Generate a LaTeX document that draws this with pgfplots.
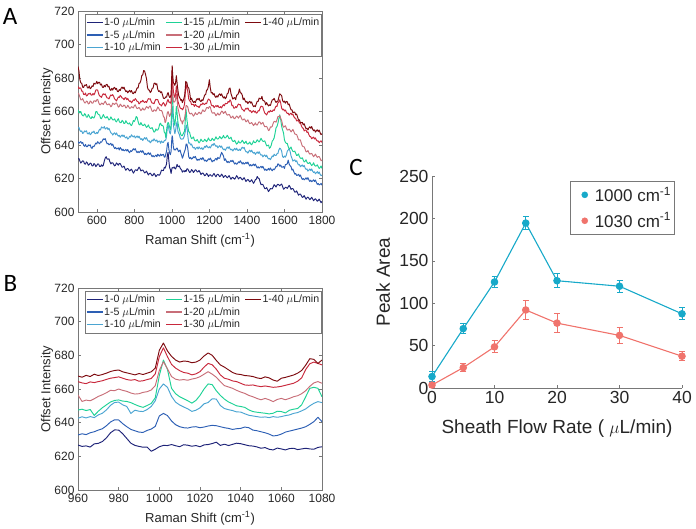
\documentclass[border=0pt]{standalone}
\usepackage{pgfplots}
\pgfplotsset{compat=1.18}
\usepackage{pgfplotstable}
\usepackage{fontspec}
\setmainfont{Liberation Sans}
\newfontfamily\panelfont{Carlito}

\definecolor{c0}{RGB}{30,35,120}
\definecolor{c5}{RGB}{45,95,180}
\definecolor{c10}{RGB}{75,165,210}
\definecolor{c15}{RGB}{30,210,150}
\definecolor{c20}{RGB}{200,110,120}
\definecolor{c30}{RGB}{200,40,60}
\definecolor{c40}{RGB}{125,10,15}
\definecolor{cyanC}{RGB}{23,169,201}
\definecolor{salmonC}{RGB}{240,115,108}
\definecolor{axgray}{RGB}{120,120,120}
\definecolor{txt}{RGB}{38,38,38}

\pgfplotstableread{
x a0 a5 a10 a15 a20 a30 a40
500 631.6 642.0 650.0 661.0 671.0 675.0 686.9
505 631.9 641.1 650.5 659.3 670.4 673.6 684.2
510 630.4 641.6 648.7 659.2 668.6 674.2 679.0
515 629.2 642.1 648.0 660.0 666.9 673.9 677.1
520 629.9 641.0 648.4 658.3 667.0 672.1 676.8
525 630.6 641.5 646.9 657.5 667.7 672.1 674.5
530 630.2 639.8 647.3 657.4 666.3 670.2 674.3
535 628.7 639.2 648.4 658.7 665.2 670.1 675.8
540 628.6 640.4 647.9 658.1 665.2 671.0 675.6
545 629.9 639.0 648.5 656.6 666.2 669.3 676.1
550 629.3 639.0 646.8 656.7 665.9 669.6 674.2
555 627.9 640.1 646.6 658.2 664.5 670.7 674.0
560 628.4 639.6 647.5 657.2 664.8 670.4 675.3
565 629.2 640.1 646.1 656.1 666.3 671.0 673.6
570 628.9 638.4 646.6 655.8 665.8 669.8 674.1
575 627.5 638.0 647.8 657.0 664.9 669.8 675.3
580 627.5 639.3 647.4 656.3 665.1 670.7 674.9
585 628.9 639.0 648.3 656.1 666.4 669.9 676.9
590 628.4 640.1 646.9 657.4 666.4 671.1 676.5
595 627.1 641.2 646.7 659.9 665.8 672.8 676.5
600 627.8 640.6 647.6 660.0 667.0 673.0 678.0
605 628.7 642.0 646.9 658.7 667.2 672.7 676.6
610 628.6 641.2 648.2 658.1 665.4 670.6 677.4
615 627.2 640.7 649.4 658.0 664.1 669.3 677.4
620 627.2 641.9 649.0 656.0 664.0 669.0 675.8
625 628.2 641.6 650.8 655.7 665.0 668.4 676.4
630 627.3 642.6 650.3 656.9 664.8 669.8 674.5
635 627.9 643.7 650.1 658.2 664.2 670.6 674.3
640 630.4 643.2 651.0 657.0 665.3 670.0 675.6
645 632.2 643.8 649.5 656.2 666.2 670.5 674.7
650 633.0 642.1 650.0 656.2 665.0 669.2 676.0
655 631.6 640.7 650.4 657.0 664.0 668.1 676.2
660 631.6 641.0 649.2 656.0 664.1 668.0 674.7
665 631.7 640.1 650.0 654.9 664.6 667.5 675.1
670 630.0 640.5 648.6 655.4 663.9 668.9 673.0
675 628.7 641.0 647.2 656.8 662.8 669.9 672.6
680 629.4 639.8 647.0 655.8 663.4 669.4 673.8
685 629.4 640.5 645.9 655.0 665.0 670.1 672.8
690 628.4 639.0 646.8 655.0 664.5 669.0 674.0
695 627.5 637.9 647.3 655.6 664.2 667.5 674.4
700 628.0 638.6 646.1 654.3 665.0 667.0 673.2
705 629.3 637.6 647.2 653.8 665.1 666.3 673.8
710 628.7 637.9 646.0 654.9 664.0 667.6 672.0
715 627.9 638.3 645.3 655.7 662.6 668.7 671.8
720 629.0 637.0 645.8 654.0 663.0 668.3 673.1
725 628.9 638.5 644.6 653.3 664.4 669.6 672.5
730 627.8 637.7 645.4 653.4 663.8 669.0 674.0
735 626.7 636.7 646.0 654.7 662.9 668.0 674.6
740 626.9 637.5 645.0 654.1 663.1 667.9 673.6
745 627.4 636.5 645.9 652.8 663.9 667.0 674.5
750 626.0 636.8 644.6 653.0 663.4 668.1 673.0
755 624.9 637.4 644.2 654.5 662.1 668.3 671.9
760 625.7 636.4 644.9 653.5 662.5 667.0 672.4
765 626.0 637.3 643.5 652.7 663.7 667.8 671.1
770 625.3 636.0 644.0 652.6 662.9 666.7 672.0
775 624.5 635.4 645.2 653.2 661.9 666.0 672.6
780 625.0 636.6 644.7 652.0 662.0 666.3 671.6
785 625.6 636.1 646.1 651.6 662.9 665.2 672.5
790 624.4 636.9 645.2 652.8 662.6 666.0 671.0
795 623.2 637.8 644.8 654.6 662.1 667.0 670.6
800 624.0 637.0 645.5 654.0 663.4 666.6 671.8
805 625.1 637.8 644.2 655.1 664.0 667.7 671.1
810 625.1 636.4 644.8 657.0 662.6 667.0 672.6
815 624.7 635.4 645.4 656.5 661.7 666.0 674.1
820 625.7 636.2 644.3 654.1 662.0 665.9 674.0
825 626.8 635.4 645.3 652.3 662.4 664.5 676.7
830 626.0 636.0 644.0 652.0 661.6 665.0 677.0
835 624.5 636.6 643.3 653.4 660.5 666.1 678.5
840 624.9 635.6 643.8 652.3 661.2 665.7 681.5
845 625.1 636.6 642.7 651.6 662.1 666.7 681.9
850 624.3 635.4 643.6 651.7 661.0 665.8 684.5
855 623.3 634.3 644.4 652.5 660.9 665.4 684.1
860 623.7 635.0 643.5 651.5 662.0 666.0 682.0
865 624.4 634.2 644.4 650.5 662.9 665.3 679.5
870 623.2 634.8 643.0 651.0 662.5 666.6 674.5
875 622.1 635.4 642.2 652.0 661.9 667.7 672.9
880 622.9 634.3 642.5 650.6 663.0 667.4 672.8
885 623.2 635.3 641.3 649.9 663.3 667.6 671.3
890 622.5 634.0 642.0 650.0 661.6 666.0 672.0
895 621.6 633.0 643.0 650.4 660.2 665.0 673.8
900 622.0 633.7 642.4 649.0 660.0 665.0 674.0
905 623.1 632.9 643.7 647.7 661.0 664.6 676.7
910 622.3 633.4 642.8 648.0 660.8 666.2 677.0
915 621.1 634.0 642.3 649.6 660.2 667.3 676.0
920 621.8 633.0 643.0 648.8 661.3 667.0 676.6
925 622.4 634.5 641.6 649.0 662.7 667.1 673.2
930 622.0 633.8 642.2 650.0 662.0 665.4 672.0
935 622.0 633.3 642.4 652.4 660.7 664.2 672.4
940 623.4 634.6 641.0 653.0 660.6 664.0 671.2
945 625.0 633.7 642.4 651.6 660.6 663.3 671.8
950 624.8 634.2 641.6 651.8 659.4 664.6 670.0
955 624.7 634.4 641.5 650.9 657.0 665.3 668.0
960 626.7 632.7 642.6 647.5 656.4 664.4 667.7
964 626.2 632.9 642.8 647.2 653.4 663.2 668.1
968 627.4 634.6 643.0 644.3 654.2 663.8 668.8
972 628.8 636.4 645.6 648.9 656.6 664.9 668.6
976 634.0 640.4 650.3 652.3 659.2 666.4 670.4
980 635.6 641.6 652.2 653.5 660.0 667.2 671.3
984 630.6 637.6 649.6 652.6 658.6 665.6 669.6
988 626.5 635.2 647.4 650.8 657.0 665.6 668.4
992 625.4 634.2 646.6 649.1 658.0 664.9 668.6
996 623.0 636.2 649.6 651.4 659.4 666.2 670.2
1000 625.7 644.0 660.0 668.0 671.0 679.2 683.0
1002 626.5 645.5 663.0 677.2 676.2 684.5 687.3
1004 626.4 644.2 661.0 671.6 672.0 679.2 682.6
1008 626.3 638.8 652.2 657.2 665.8 672.4 677.2
1012 626.9 637.0 649.3 654.2 665.6 669.8 676.6
1016 626.0 637.4 646.7 651.6 665.9 668.4 675.6
1020 625.7 637.0 648.8 656.2 667.3 670.3 677.2
1024 627.0 638.0 652.0 663.0 670.3 675.2 681.4
1028 628.4 638.2 654.0 659.0 667.0 671.8 677.0
1032 627.2 637.0 648.4 654.0 662.0 666.4 673.0
1036 627.1 636.0 647.2 651.2 660.4 664.8 669.8
1040 627.5 636.6 646.3 649.6 658.2 663.4 668.6
1044 626.3 637.0 644.4 647.6 656.2 662.2 667.8
1048 625.6 635.2 643.6 646.2 654.4 661.8 666.6
1052 625.2 634.0 643.4 645.6 654.4 661.8 667.2
1056 623.8 632.1 643.6 645.6 652.5 661.0 665.3
1060 624.4 633.2 643.6 646.6 654.4 661.6 666.4
1064 624.6 635.0 644.6 647.4 654.4 662.8 667.6
1068 624.0 636.2 646.0 648.4 656.0 664.6 669.4
1072 624.8 637.6 648.2 655.4 659.0 671.6 674.2
1074 624.4 639.0 650.0 660.4 661.6 675.0 678.0
1076 624.2 640.6 651.5 661.0 663.6 676.0 677.6
1080 625.7 640.6 651.9 655.4 663.4 674.3 677.2
1085 625.7 637.9 645.5 651.3 662.7 671.8 674.5
1090 624.6 633.0 641.0 648.0 660.0 667.5 674.0
1095 623.6 631.9 641.3 647.4 658.7 666.3 671.3
1100 624.0 632.6 640.0 645.0 658.6 666.0 667.0
1105 625.3 631.6 640.6 643.8 659.0 664.1 667.9
1110 624.8 632.0 639.0 644.2 658.2 664.2 666.3
1115 623.6 633.0 638.2 644.8 657.2 664.3 665.4
1120 624.3 632.4 638.6 643.0 658.0 663.0 666.0
1125 625.2 633.2 637.4 642.4 659.3 664.2 665.3
1130 625.0 631.8 638.2 642.5 658.5 663.6 666.8
1135 623.9 630.8 638.7 643.3 658.1 662.9 667.7
1140 624.1 631.5 637.6 642.2 658.9 663.1 667.0
1145 624.8 630.9 638.9 641.3 659.6 662.3 667.9
1150 623.7 631.6 638.0 642.0 659.0 663.4 666.4
1155 622.4 632.2 637.6 643.5 658.5 664.4 665.9
1160 623.0 631.2 638.4 642.6 659.8 664.0 667.0
1165 623.3 632.5 637.3 642.1 661.0 665.1 666.5
1170 622.6 631.5 638.1 642.3 660.2 664.4 668.2
1175 621.6 630.4 639.2 643.4 660.0 664.2 669.9
1180 622.0 631.0 638.6 642.7 661.0 665.0 670.0
1185 623.1 630.2 639.8 642.0 662.3 664.7 672.7
1190 622.4 630.8 638.8 642.9 662.4 666.4 673.0
1195 621.2 631.8 638.3 644.2 661.8 667.4 675.2
1200 622.0 631.2 639.0 643.0 663.0 667.0 679.0
1205 622.3 632.2 638.2 642.5 662.7 666.4 673.9
1210 621.6 631.0 639.4 642.8 660.4 664.0 671.0
1215 621.3 629.9 640.4 644.0 659.1 663.3 671.3
1220 622.3 630.7 639.8 643.3 659.0 663.6 670.0
1225 623.0 630.4 641.0 642.7 659.4 662.3 670.7
1230 621.8 631.4 640.0 643.6 658.6 663.0 669.0
1235 621.0 632.0 639.2 644.9 657.5 663.6 668.4
1240 622.2 631.0 639.6 643.8 658.2 662.8 669.4
1245 622.6 632.6 638.3 643.5 659.1 663.6 668.6
1250 622.0 632.0 639.0 644.0 658.0 662.6 670.0
1255 621.1 632.1 639.6 645.1 658.0 662.3 670.6
1260 621.5 634.0 638.6 644.3 659.1 662.9 669.5
1265 622.6 635.6 639.4 643.7 660.2 662.1 670.5
1270 621.9 634.6 638.0 644.6 660.0 663.3 669.0
1275 620.6 633.5 637.2 645.7 658.8 664.1 668.1
1280 621.3 630.8 637.6 644.4 659.4 663.4 668.8
1285 621.8 631.8 636.8 644.2 660.1 664.9 667.6
1290 621.2 630.5 637.9 644.8 658.7 664.6 668.5
1295 620.4 629.5 638.8 645.8 657.8 664.8 670.6
1300 621.0 630.2 638.0 645.0 658.0 666.0 671.0
1305 621.7 629.4 639.0 643.7 658.3 665.5 673.7
1310 620.6 630.0 637.7 644.0 657.4 667.0 674.0
1315 619.5 630.8 637.0 644.7 656.1 666.0 670.7
1320 620.4 630.0 637.5 643.0 656.6 663.5 669.0
1325 620.7 630.9 636.4 642.2 657.3 663.7 667.4
1330 620.0 629.6 637.3 642.2 656.0 662.0 668.0
1335 619.6 628.6 638.0 642.8 655.7 662.0 668.3
1340 620.5 629.3 637.0 641.6 656.5 662.9 667.0
1345 621.7 628.5 638.1 640.5 657.3 662.3 669.7
1350 621.0 629.0 637.0 641.0 656.8 663.6 670.0
1355 619.7 630.0 636.7 642.4 656.0 664.5 670.9
1360 620.4 629.4 637.5 641.4 657.0 664.0 673.4
1365 620.7 630.6 636.7 641.2 657.6 664.1 671.1
1370 620.0 629.6 637.8 641.8 656.2 662.4 671.0
1375 619.2 628.7 638.7 642.8 655.0 661.2 669.8
1380 619.7 629.5 638.0 642.0 655.0 661.0 667.0
1385 620.5 628.6 638.6 640.9 655.6 660.1 668.0
1390 619.4 629.0 637.0 641.4 655.0 661.2 666.5
1395 618.2 629.7 635.9 642.3 653.8 662.0 665.5
1400 619.0 628.8 636.0 640.8 654.3 661.4 666.0
1405 619.4 629.8 635.1 640.5 655.0 662.1 664.7
1410 618.8 628.5 636.2 641.0 653.6 660.9 665.6
1415 618.0 627.5 636.9 641.8 652.7 660.2 666.1
1420 618.5 628.3 635.9 640.7 653.0 660.5 665.0
1425 619.3 627.5 636.9 640.1 653.4 659.3 665.7
1430 618.2 628.0 635.7 641.0 652.6 660.0 664.0
1435 617.1 628.6 635.1 642.5 651.6 660.5 662.9
1440 618.0 627.6 635.6 641.5 652.3 659.6 663.4
1445 619.3 628.6 634.4 641.4 653.2 660.2 662.9
1450 619.6 627.4 635.2 642.0 652.0 659.0 664.6
1455 621.2 626.3 635.9 643.1 651.9 659.3 666.1
1460 620.2 627.0 634.9 642.4 653.0 660.5 666.0
1465 620.0 626.2 636.0 641.8 653.9 660.3 668.0
1470 618.0 626.7 634.8 642.7 653.6 662.0 667.6
1475 616.3 627.3 633.9 644.0 652.4 663.2 667.5
1480 616.5 626.3 634.2 643.0 653.0 663.0 669.0
1485 616.4 627.3 632.9 642.2 653.5 662.7 666.6
1490 615.2 626.0 633.6 642.2 652.0 660.6 666.4
1495 613.9 624.9 634.1 642.5 650.9 659.1 666.0
1500 614.0 625.6 633.0 641.0 651.0 658.6 664.0
1505 614.6 624.8 633.9 639.5 651.1 657.9 665.3
1510 613.4 625.3 632.5 639.6 650.0 659.2 664.2
1515 612.2 626.0 631.7 640.0 648.6 660.1 663.3
1520 613.0 625.0 632.0 638.0 649.0 659.6 664.0
1525 614.0 626.3 631.2 638.6 650.8 660.7 663.6
1530 613.9 625.3 632.3 640.0 650.6 660.0 665.4
1535 613.8 624.6 633.5 642.4 651.2 660.0 667.0
1540 615.0 625.7 633.0 643.0 653.0 661.0 667.0
1545 616.3 625.2 634.5 644.2 654.1 660.5 667.9
1550 615.7 626.0 633.8 647.0 654.0 662.0 666.4
1555 614.9 627.3 633.7 650.2 653.6 663.2 665.4
1560 616.0 627.0 634.8 651.0 655.0 663.0 666.0
1565 616.6 628.8 634.9 652.9 657.0 665.2 666.2
1570 616.2 628.4 637.0 655.6 657.0 665.6 668.5
1575 615.6 627.3 638.1 658.0 657.5 667.0 670.6
1580 616.3 628.0 637.6 655.0 656.0 665.0 670.0
1585 616.7 626.7 636.4 651.2 654.6 662.0 669.5
1590 615.2 626.8 633.0 649.0 652.0 661.0 666.5
1595 613.6 627.2 632.6 647.2 650.6 661.4 665.6
1600 614.0 626.0 633.4 643.0 651.0 660.3 666.2
1605 614.8 628.3 632.7 641.6 651.5 660.9 665.0
1610 614.6 628.4 634.0 641.0 650.0 659.6 666.0
1615 614.1 628.8 636.3 640.9 648.9 658.8 665.8
1620 615.0 631.0 637.0 639.0 649.0 659.0 664.0
1625 615.9 628.6 637.7 637.7 649.5 657.8 664.5
1630 615.0 627.6 636.2 638.0 648.8 658.6 662.6
1635 613.5 627.1 633.5 638.8 647.8 659.0 661.0
1640 614.0 625.0 632.0 637.2 648.5 658.0 661.0
1645 614.0 625.6 630.4 636.2 649.3 658.4 659.2
1650 613.0 624.0 630.8 636.0 648.0 657.0 659.6
1655 611.8 622.6 631.2 636.4 646.6 656.0 659.6
1660 612.0 623.0 630.0 635.0 646.4 656.0 658.0
1665 612.6 621.8 630.6 633.7 646.2 654.3 658.5
1670 611.3 622.0 629.0 634.0 644.8 654.5 656.6
1675 610.0 622.5 628.1 634.7 643.0 654.5 655.0
1680 610.6 621.3 628.3 633.0 643.0 653.0 655.0
1685 610.7 622.1 627.0 632.1 643.0 653.2 653.1
1690 609.8 620.6 627.6 632.0 641.0 651.5 653.4
1695 608.7 619.4 628.1 632.4 639.4 650.3 653.5
1700 609.0 620.0 627.0 631.0 639.0 650.0 652.0
1705 609.8 619.2 627.8 629.9 638.9 648.4 652.7
1710 608.7 619.7 626.3 630.3 637.5 648.8 651.0
1715 607.6 620.4 625.4 631.2 635.9 648.9 649.7
1720 608.5 619.5 625.7 629.7 636.0 647.5 650.0
1725 608.9 620.5 624.4 629.0 636.7 647.8 649.0
1730 608.2 619.2 625.0 629.0 635.4 646.2 650.2
1735 607.4 618.2 625.7 629.7 634.5 645.1 650.9
1740 608.0 619.0 624.7 628.6 634.8 645.0 650.0
1745 608.8 618.1 625.7 627.7 635.0 643.7 651.0
1750 607.8 618.6 624.4 628.3 634.0 644.3 649.5
1755 606.7 619.2 623.6 629.4 633.0 644.7 648.5
1760 607.5 618.2 624.0 628.0 633.7 643.6 649.0
1765 607.9 619.1 622.8 627.4 634.6 644.2 647.7
1770 607.2 617.7 623.5 627.5 633.4 643.0 648.5
1775 606.4 616.5 624.1 628.2 632.6 642.3 649.1
1780 606.9 617.0 623.0 627.0 633.0 642.5 648.0
1785 607.7 616.1 623.9 626.0 633.1 641.3 648.9
1790 606.6 616.5 622.5 626.5 632.0 642.0 647.3
1795 605.5 617.1 621.7 627.5 630.6 642.5 646.2
1800 606.4 616.0 622.0 626.0 631.0 641.5 646.7
}\tableA

\pgfplotstableread{
x b0 b5 b10 b15 b20 b30 b40
960 626.7 632.7 642.6 647.5 656.4 664.4 667.7
962 625.9 633.4 643.5 648.0 652.6 663.6 667.0
964 626.2 632.9 642.8 647.2 653.4 663.2 668.1
966 625.5 634.0 643.6 647.8 653.0 664.2 667.4
968 627.4 634.6 643.0 644.3 654.2 663.8 668.8
970 627.7 635.6 644.6 646.8 655.6 664.4 668.0
972 628.8 636.4 645.6 648.9 656.6 664.9 668.6
974 631.0 638.2 647.6 650.6 657.8 665.7 669.4
976 634.0 640.4 650.3 652.3 659.2 666.4 670.4
978 635.7 641.7 652.0 653.2 659.0 666.8 671.0
980 635.6 641.6 652.2 653.5 660.0 667.2 671.3
982 633.4 639.4 650.6 652.8 659.2 666.4 670.2
984 630.6 637.6 649.6 652.6 658.6 665.6 669.6
986 627.8 636.0 645.5 651.9 657.6 665.2 669.0
988 626.5 635.2 647.4 650.8 657.0 665.6 668.4
990 625.9 634.4 646.8 649.8 657.2 664.6 669.2
992 625.4 634.2 646.6 649.1 658.0 664.9 668.6
994 625.5 635.4 647.8 650.2 658.4 665.6 669.4
996 623.0 636.2 649.6 651.4 659.4 666.2 670.2
998 624.2 637.8 653.0 654.8 662.0 669.0 672.4
1000 625.7 644.0 660.0 668.0 671.0 679.2 683.0
1002 626.5 645.5 663.0 677.2 676.2 684.5 687.3
1004 626.4 644.2 661.0 671.6 672.0 679.2 682.6
1006 627.0 641.0 655.6 660.4 667.4 674.6 679.4
1008 626.3 638.8 652.2 657.2 665.8 672.4 677.2
1010 625.7 637.6 650.5 655.4 665.3 670.9 676.0
1012 626.9 637.0 649.3 654.2 665.6 669.8 676.6
1014 626.6 636.8 648.2 653.0 665.2 669.4 676.4
1016 626.0 637.4 646.7 651.6 665.9 668.4 675.6
1018 626.4 637.6 647.4 653.2 666.4 669.0 676.0
1020 625.7 637.0 648.8 656.2 667.3 670.3 677.2
1022 626.8 637.4 651.2 660.0 668.8 673.0 679.6
1024 627.0 638.0 652.0 663.0 670.3 675.2 681.4
1026 627.6 638.4 654.2 662.6 668.8 674.4 680.0
1028 628.4 638.2 654.0 659.0 667.0 671.8 677.0
1030 626.5 637.6 650.2 656.2 664.4 668.4 674.3
1032 627.2 637.0 648.4 654.0 662.0 666.4 673.0
1034 626.4 636.6 647.7 652.3 661.2 665.8 671.4
1036 627.1 636.0 647.2 651.2 660.4 664.8 669.8
1038 627.8 636.4 646.4 650.0 659.2 664.4 668.9
1040 627.5 636.6 646.3 649.6 658.2 663.4 668.6
1042 626.9 637.4 645.3 649.1 657.4 662.4 668.0
1044 626.3 637.0 644.4 647.6 656.2 662.2 667.8
1046 626.1 635.6 644.0 646.6 655.4 662.4 667.4
1048 625.6 635.2 643.6 646.2 654.4 661.8 666.6
1050 624.8 634.6 643.2 645.9 653.6 661.4 666.2
1052 625.2 634.0 643.4 645.6 654.4 661.8 667.2
1054 624.2 633.2 643.0 645.2 653.6 661.4 666.6
1056 623.8 632.1 643.6 645.6 652.5 661.0 665.3
1058 624.9 632.4 643.2 646.8 653.8 661.2 664.6
1060 624.4 633.2 643.6 646.6 654.4 661.6 666.4
1062 623.8 634.4 644.2 645.8 653.6 662.2 666.9
1064 624.6 635.0 644.6 647.4 654.4 662.8 667.6
1066 624.8 635.6 645.5 648.0 655.4 663.4 668.3
1068 624.0 636.2 646.0 648.4 656.0 664.6 669.4
1070 624.4 636.8 647.0 650.6 657.2 666.6 671.0
1072 624.8 637.6 648.2 655.4 659.0 671.6 674.2
1074 624.4 639.0 650.0 660.4 661.6 675.0 678.0
1076 624.2 640.6 651.5 661.0 663.6 676.0 677.6
1078 625.3 643.2 652.5 660.4 664.4 675.2 675.2
1080 625.7 640.6 651.9 655.4 663.4 674.3 677.2
}\tableB

\pgfplotstableread{
x y e
0 13.5 6
5 70 6
10 125 7
15 194.5 7.5
20 126.5 8
30 120 7
40 87.5 7
}\tableCa

\pgfplotstableread{
x y e
0 3.5 3
5 24 5
10 48.5 7
15 92 11
20 76.5 11
30 62 9
40 37.5 5
}\tableCb

\pgfplotsset{
  specstyle/.style={
    scale only axis, width=244pt, anchor=south west,
    ymin=600, ymax=720, ytick={600,620,...,720},
    tick align=inside, major tick length=3pt,
    axis line style={axgray}, tick style={axgray, line width=0.4pt},
    tick label style={font=\fontsize{12}{12}\selectfont, text=txt},
    xticklabel style={yshift=-1pt},
    label style={font=\fontsize{13}{13}\selectfont, text=txt},
    /pgf/number format/assume math mode=true,
    /pgf/number format/1000 sep={},
    ylabel={Offset Intensity},
    xlabel={Raman Shift (cm\textsuperscript{-1})},
    ylabel style={at={(axis description cs:-0.127,0.5)}, anchor=center},
    xlabel style={at={(axis description cs:0.5,-0.14)}, anchor=center},
    legend columns=3, legend cell align=left,
    legend style={at={(axis description cs:0.029,0.985)}, anchor=north west,
      draw=axgray, line width=0.4pt, fill=white, text=txt,
      font=\fontsize{10.6}{11}\selectfont,
      nodes={inner sep=0.6pt},
      inner xsep=1pt, inner ysep=3pt, row sep=2.3pt,
      /tikz/every even column/.append style={column sep=4pt}},
    legend image code/.code={\draw[#1, line width=1.3pt] (0pt,0pt) -- (16pt,0pt);},
  },
  sp/.style={forget plot, line width=0.95pt, line join=round},
}

\begin{document}
\begin{tikzpicture}[x=1pt,y=1pt]
\useasboundingbox (0,0) rectangle (696,529);

% ---------------- Panel A ----------------
\begin{axis}[specstyle, height=201pt, at={(78pt,317pt)},
  xmin=500, xmax=1800, xtick={600,800,...,1800}]
\addplot[sp, c0]  table[x=x,y=a0]  {\tableA};
\addplot[sp, c5]  table[x=x,y=a5]  {\tableA};
\addplot[sp, c10] table[x=x,y=a10] {\tableA};
\addplot[sp, c15] table[x=x,y=a15] {\tableA};
\addplot[sp, c20] table[x=x,y=a20] {\tableA};
\addplot[sp, c30] table[x=x,y=a30] {\tableA};
\addplot[sp, c40] table[x=x,y=a40] {\tableA};
\addlegendimage{c0}\addlegendentry{1-0 $\mu$L/min}
\addlegendimage{c15}\addlegendentry{1-15 $\mu$L/min}
\addlegendimage{c40}\addlegendentry{1-40 $\mu$L/min}
\addlegendimage{c5}\addlegendentry{1-5 $\mu$L/min}
\addlegendimage{c20}\addlegendentry{1-20 $\mu$L/min}
\addlegendimage{empty legend}\addlegendentry{}
\addlegendimage{c10}\addlegendentry{1-10 $\mu$L/min}
\addlegendimage{c30}\addlegendentry{1-30 $\mu$L/min}
\end{axis}

% ---------------- Panel B ----------------
\begin{axis}[specstyle, height=202pt, at={(78pt,39pt)},
  xmin=960, xmax=1080, xtick={960,980,...,1080}]
\addplot[sp, c0]  table[x=x,y=b0]  {\tableB};
\addplot[sp, c5]  table[x=x,y=b5]  {\tableB};
\addplot[sp, c10] table[x=x,y=b10] {\tableB};
\addplot[sp, c15] table[x=x,y=b15] {\tableB};
\addplot[sp, c20] table[x=x,y=b20] {\tableB};
\addplot[sp, c30] table[x=x,y=b30] {\tableB};
\addplot[sp, c40] table[x=x,y=b40] {\tableB};
\addlegendimage{c0}\addlegendentry{1-0 $\mu$L/min}
\addlegendimage{c15}\addlegendentry{1-15 $\mu$L/min}
\addlegendimage{c40}\addlegendentry{1-40 $\mu$L/min}
\addlegendimage{c5}\addlegendentry{1-5 $\mu$L/min}
\addlegendimage{c20}\addlegendentry{1-20 $\mu$L/min}
\addlegendimage{empty legend}\addlegendentry{}
\addlegendimage{c10}\addlegendentry{1-10 $\mu$L/min}
\addlegendimage{c30}\addlegendentry{1-30 $\mu$L/min}
\end{axis}

% ---------------- Panel C ----------------
\begin{axis}[scale only axis, width=250pt, height=212pt, anchor=south west,
  at={(432pt,141pt)},
  xmin=0, xmax=40, ymin=0, ymax=250,
  xtick={0,10,20,30,40}, ytick={0,50,...,250},
  axis lines=left, axis line style={-, axgray},
  tick align=inside, major tick length=3pt, tick style={axgray},
  tick label style={font=\fontsize{17.5}{17.5}\selectfont, text=txt},
  label style={font=\fontsize{19}{19}\selectfont, text=txt},
  /pgf/number format/assume math mode=true,
  ylabel={Peak Area},
  xlabel={Sheath Flow Rate ( $\mu$L/min)},
  ylabel style={at={(axis description cs:-0.196,0.5)}, anchor=center},
  xlabel style={at={(axis description cs:0.5,-0.19)}, anchor=center},
  clip=false,
  legend cell align=left,
  legend style={at={(axis description cs:0.552,0.976)}, anchor=north west,
    draw=axgray, line width=0.5pt, fill=white, text=txt,
    font=\fontsize{17}{17}\selectfont,
    nodes={inner sep=1.5pt},
    inner xsep=2pt, inner ysep=4pt, row sep=7pt},
  legend image code/.code={\path[draw=none] (0pt,0pt) -- (21pt,0pt); \fill[#1] (12.5pt,0pt) circle (3pt);},
]
\addplot[forget plot, cyanC, line width=1.1pt, mark=*, mark size=3.2pt,
  mark options={fill=cyanC, draw=cyanC},
  error bars/.cd, y dir=both, y explicit,
  error bar style={line width=1pt, cyanC},
  error mark options={rotate=90, mark size=3pt, line width=1pt, cyanC}]
  table[x=x, y=y, y error=e] {\tableCa};
\addplot[forget plot, salmonC, line width=1.1pt, mark=*, mark size=3.2pt,
  mark options={fill=salmonC, draw=salmonC},
  error bars/.cd, y dir=both, y explicit,
  error bar style={line width=1pt, salmonC},
  error mark options={rotate=90, mark size=3pt, line width=1pt, salmonC}]
  table[x=x, y=y, y error=e] {\tableCb};
\addlegendimage{cyanC}\addlegendentry{1000 cm\textsuperscript{-1}}
\addlegendimage{salmonC}\addlegendentry{1030 cm\textsuperscript{-1}}
\end{axis}

% panel letters
\node[font=\panelfont\fontsize{25}{25}\selectfont] at (10,512.5) {A};
\node[font=\panelfont\fontsize{25}{25}\selectfont] at (10.5,245.5) {B};
\node[font=\panelfont\fontsize{25}{25}\selectfont] at (356,362) {C};
\end{tikzpicture}
\end{document}
